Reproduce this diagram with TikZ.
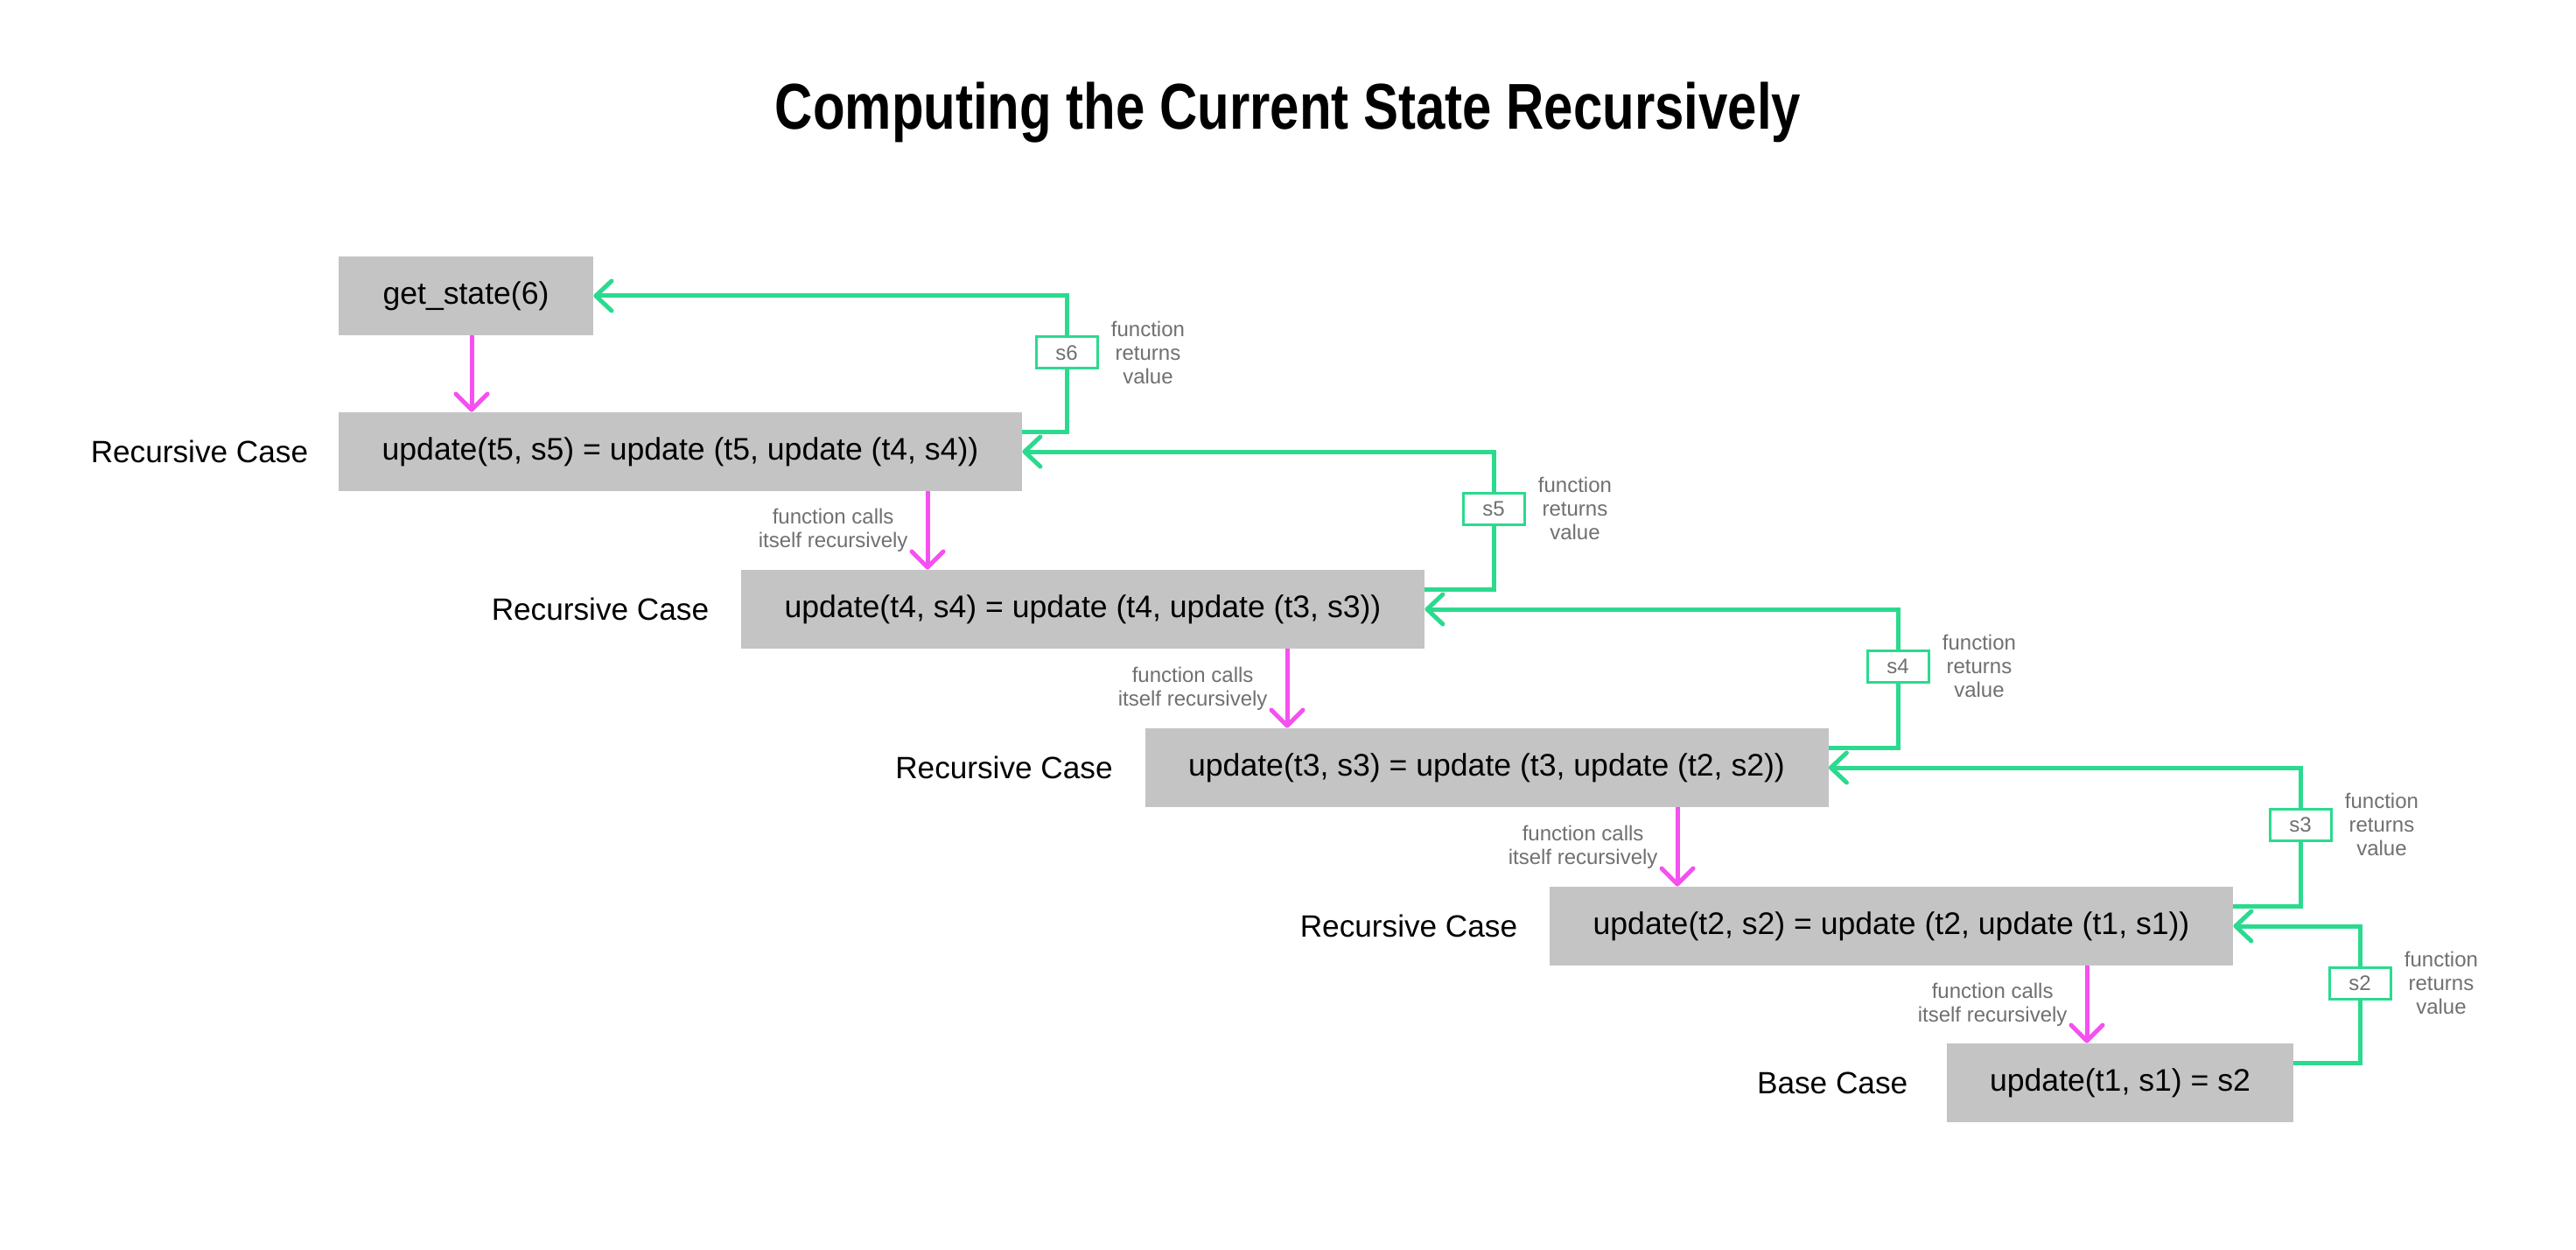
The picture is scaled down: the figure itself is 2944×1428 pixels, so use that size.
\documentclass[tikz,border=0pt]{standalone}
\usepackage{fontspec}
\usepackage{graphicx}
\setmainfont{Liberation Sans}
\usetikzlibrary{arrows.meta}
\definecolor{boxgray}{HTML}{C4C4C4}
\definecolor{retgreen}{HTML}{2BDA8E}
\definecolor{callpink}{HTML}{F550F0}
\definecolor{notegray}{HTML}{707070}
\begin{document}
\begin{tikzpicture}[x=0.5pt,y=-0.5pt,
  box/.style={fill=boxgray, minimum height=45pt, inner sep=0pt, font=\fontsize{17.8}{22}\selectfont},
  casetext/.style={anchor=east, inner sep=0pt, font=\fontsize{17.6}{22}\selectfont},
  call/.style={draw=callpink, line width=2.5pt, -{Straight Barb[length=9pt,width=18pt,round]}},
  ret/.style={draw=retgreen, line width=2.5pt, -{Straight Barb[length=9pt,width=17pt,round]}},
  sbox/.style={draw=retgreen, line width=1.5pt, fill=white, minimum width=35pt, minimum height=18pt, inner sep=0pt, text=notegray, font=\fontsize{12}{14}\selectfont},
  note/.style={text=notegray, font=\fontsize{12}{13.5}\selectfont, align=center, inner sep=0pt}
]
\path[fill=white] (0,0) rectangle (2944,1428);
\useasboundingbox (0,0) rectangle (2944,1428);

\node[anchor=base, inner sep=0pt, font=\fontsize{37}{40}\selectfont\bfseries] (title) at (1472,148) {\scalebox{0.81}[1]{Computing the Current State Recursively}};

% boxes
\node[box, minimum width=145.5pt] (B0) at (532.5,338) {get\_state(6)};
\node[box, minimum width=390.5pt] (B1) at (777.5,516) {update(t5, s5) = update (t5, update (t4, s4))};
\node[box, minimum width=390.5pt] (B2) at (1237.5,696) {update(t4, s4) = update (t4, update (t3, s3))};
\node[box, minimum width=390.5pt] (B3) at (1699,877) {update(t3, s3) = update (t3, update (t2, s2))};
\node[box, minimum width=390.5pt] (B4) at (2161.5,1058) {update(t2, s2) = update (t2, update (t1, s1))};
\node[box, minimum width=198pt] (B5) at (2423,1237) {update(t1, s1) = s2};

% case labels
\node[casetext] (L1) at ([xshift=-17pt]B1.west) {Recursive Case};
\node[casetext] (L2) at ([xshift=-18pt]B2.west) {Recursive Case};
\node[casetext] (L3) at ([xshift=-18pt]B3.west) {Recursive Case};
\node[casetext] (L4) at ([xshift=-18pt]B4.west) {Recursive Case};
\node[casetext] (L5) at ([xshift=-22pt]B5.west) {Base Case};

% call arrows
\coordinate (k1) at (539,0);
\coordinate (k2) at (1060,0);
\coordinate (k3) at (1471,0);
\coordinate (k4) at (1917,0);
\coordinate (k5) at (2385,0);
\draw[call] (B0.south -| k1) -- (B1.north -| k1);
\draw[call] (B1.south -| k2) -- node[note, left=10pt] (n2) {function calls\\itself recursively} (B2.north -| k2);
\draw[call] (B2.south -| k3) -- node[note, left=10pt] (n3) {function calls\\itself recursively} (B3.north -| k3);
\draw[call] (B3.south -| k4) -- node[note, left=10pt] (n4) {function calls\\itself recursively} (B4.north -| k4);
\draw[call] (B4.south -| k5) -- node[note, left=10pt] (n5) {function calls\\itself recursively} (B5.north -| k5);

% return arrows
\coordinate (v6) at (1219,0);
\coordinate (v5) at (1707,0);
\coordinate (v4) at (2169,0);
\coordinate (v3) at (2629,0);
\coordinate (v2) at (2697,0);
\draw[ret] ([yshift=11.5pt]B1.east) -| (B0.east -| v6) -- (B0.east);
\draw[ret] ([yshift=11.5pt]B2.east) -| (B1.east -| v5) -- (B1.east);
\draw[ret] ([yshift=11.5pt]B3.east) -| (B2.east -| v4) -- (B2.east);
\draw[ret] ([yshift=11.5pt]B4.east) -| (B3.east -| v3) -- (B3.east);
\draw[ret] ([yshift=11.5pt]B5.east) -| (B4.east -| v2) -- (B4.east);

\node[sbox] (S6) at (1219,403) {s6};
\node[sbox] (S5) at (1707,581) {s5};
\node[sbox] (S4) at (2169,761) {s4};
\node[sbox] (S3) at (2629,942) {s3};
\node[sbox] (S2) at (2697,1123) {s2};

\node[note, anchor=west] (T6) at ([xshift=7pt]S6.east) {function\\returns\\value};
\node[note, anchor=west] (T5) at ([xshift=7pt]S5.east) {function\\returns\\value};
\node[note, anchor=west] (T4) at ([xshift=7pt]S4.east) {function\\returns\\value};
\node[note, anchor=west] (T3) at ([xshift=7pt]S3.east) {function\\returns\\value};
\node[note, anchor=west] (T2) at ([xshift=7pt]S2.east) {function\\returns\\value};
\end{tikzpicture}
\end{document}
